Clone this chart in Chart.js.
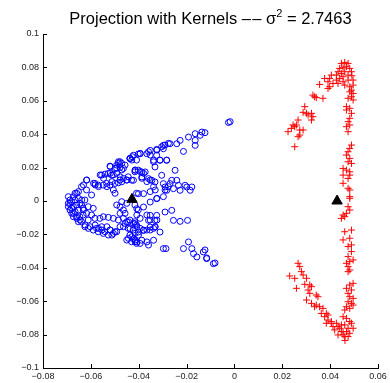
<!DOCTYPE html>
<html>
<head>
<meta charset="utf-8">
<script src="https://cdn.jsdelivr.net/npm/chart.js@4.4.1/dist/chart.umd.min.js"></script>
<style>
  html, body { margin: 0; padding: 0; background: #fff; }
  #wrap { width: 390px; height: 383px; }
</style>
</head>
<body>
<div id="wrap"><canvas id="proj"></canvas></div>
<script>
// projected points, class 1 (blue circles)
const class1Points = [
  [-0.0437,0.0255],[-0.0427,0.0265],[-0.0402,0.0281],[-0.0409,0.0245],
  [-0.0485,0.0235],[-0.0471,0.0225],[-0.0492,0.0215],[-0.0520,0.0209],[-0.0499,0.0195],[-0.0478,0.0201],[-0.0464,0.0195],[-0.0457,0.0215],
  [-0.0555,0.0155],[-0.0541,0.0161],[-0.0527,0.0165],[-0.0513,0.0155],[-0.0492,0.0165],[-0.0478,0.0145],[-0.0464,0.0135],[-0.0450,0.0125],
  [-0.0471,0.0115],[-0.0444,0.0145],[-0.0430,0.0125],[-0.0416,0.0175],[-0.0402,0.0185],
  [-0.0618,0.0125],[-0.0583,0.0105],[-0.0569,0.0095],[-0.0548,0.0095],[-0.0534,0.0105],[-0.0520,0.0095],[-0.0499,0.0105],[-0.0485,0.0109],
  [-0.0506,0.0066],[-0.0499,0.0046],
  [-0.0639,0.0086],[-0.0618,0.0066],[-0.0597,0.0036],[-0.0659,0.0046],[-0.0673,0.0026],[-0.0687,0.0006],[-0.0694,-0.0014],[-0.0680,-0.0004],
  [-0.0666,0.0006],[-0.0652,0.0016],[-0.0625,0.0006],[-0.0639,-0.0024],
  [-0.0694,-0.0034],[-0.0687,-0.0054],[-0.0673,-0.0034],[-0.0659,-0.0024],[-0.0646,-0.0014],[-0.0680,-0.0074],[-0.0666,-0.0064],[-0.0652,-0.0054],
  [-0.0632,-0.0044],[-0.0611,-0.0034],[-0.0590,-0.0044],[-0.0673,-0.0094],[-0.0659,-0.0104],[-0.0646,-0.0094],[-0.0632,-0.0084],[-0.0618,-0.0074],
  [-0.0597,-0.0084],[-0.0611,-0.0114],[-0.0639,-0.0124],[-0.0652,-0.0124],[-0.0625,-0.0154],[-0.0611,-0.0164],[-0.0590,-0.0174],[-0.0576,-0.0164],
  [-0.0555,-0.0154],[-0.0569,-0.0184],[-0.0541,-0.0184],[-0.0520,-0.0174],[-0.0506,-0.0194],[-0.0492,-0.0184],[-0.0527,-0.0204],[-0.0548,-0.0194],
  [-0.0583,-0.0104],[-0.0562,-0.0104],[-0.0548,-0.0094],[-0.0527,-0.0098],[-0.0506,-0.0104],[-0.0485,-0.0114],[-0.0464,-0.0104],[-0.0450,-0.0124],
  [-0.0437,-0.0114],[-0.0416,-0.0124],[-0.0409,-0.0144],[-0.0423,-0.0174],[-0.0444,-0.0164],[-0.0464,-0.0154],[-0.0437,-0.0204],[-0.0450,-0.0234],
  [-0.0416,-0.0234],[-0.0409,-0.0254],[-0.0430,-0.0244],
  [-0.0492,-0.0024],[-0.0478,-0.0034],[-0.0464,-0.0054],[-0.0471,-0.0004],[-0.0450,-0.0014],[-0.0478,-0.0074],[-0.0457,-0.0074],[-0.0416,-0.0024],
  [-0.0402,-0.0054],[-0.0409,0.0046],
  [-0.0192,0.0383],[-0.0164,0.0403],[-0.0136,0.0413],[-0.0143,0.0393],[-0.0164,0.0363],[-0.0164,0.0333],[-0.0227,0.0363],[-0.0241,0.0343],
  [-0.0213,0.0297],[-0.0269,0.0343],[-0.0297,0.0333],[-0.0297,0.0313],[-0.0325,0.0309],[-0.0352,0.0303],[-0.0366,0.0283],[-0.0394,0.0283],
  [-0.0422,0.0274],[-0.0436,0.0254],[-0.0325,0.0274],[-0.0338,0.0244],[-0.0311,0.0244],[-0.0283,0.0244],[-0.0332,0.0204],[-0.0415,0.0184],
  [-0.0387,0.0174],[-0.0373,0.0174],[-0.0359,0.0134],[-0.0345,0.0124],[-0.0332,0.0114],[-0.0387,0.0144],[-0.0422,0.0124],[-0.0304,0.0154],
  [-0.0297,0.0104],[-0.0290,0.0084],[-0.0269,0.0104],[-0.0262,0.0124],[-0.0241,0.0124],[-0.0234,0.0094],[-0.0283,0.0064],[-0.0255,0.0074],
  [-0.0227,0.0064],[-0.0206,0.0094],[-0.0199,0.0084],[-0.0178,0.0084],[-0.0185,0.0064],[-0.0248,0.0184],
  [-0.0401,0.0044],[-0.0380,0.0044],[-0.0352,-0.0006],[-0.0325,0.0014],[-0.0290,-0.0066],[-0.0262,-0.0056],[-0.0255,-0.0116],[-0.0227,-0.0122],
  [-0.0196,-0.0116],[-0.0408,-0.0046],[-0.0380,-0.0036],[-0.0352,-0.0086],[-0.0325,-0.0086],[-0.0332,-0.0116],[-0.0359,-0.0116],[-0.0352,-0.0156],
  [-0.0332,-0.0156],[-0.0311,-0.0186],[-0.0338,-0.0235],[-0.0366,-0.0245],[-0.0387,-0.0235],[-0.0408,-0.0245],[-0.0422,-0.0226],[-0.0401,-0.0186],
  [-0.0380,-0.0176],[-0.0436,-0.0166],[-0.0415,-0.0136],
  [-0.0297,-0.0285],[-0.0286,-0.0285],[-0.0213,-0.0285],[-0.0192,-0.0245],[-0.0178,-0.0285],[-0.0171,-0.0315],[-0.0157,-0.0335],[-0.0130,-0.0305],
  [-0.0116,-0.0345],[-0.0088,-0.0375],[-0.0123,-0.0293],[-0.0116,-0.0341],[-0.0081,-0.0371],[-0.0123,0.0409],
  [-0.0025,0.0470],[-0.0018,0.0475],
  [-0.0394,0.0285],[-0.0359,0.0295],[-0.0352,0.0275],[-0.0324,0.0305],[-0.0304,0.0325],[-0.0290,0.0335],[-0.0276,0.0345],[-0.0311,0.0245],
  [-0.0338,0.0235],[-0.0283,0.0245],[-0.0436,0.0255],[-0.0429,0.0245],[-0.0485,0.0225],[-0.0478,0.0235],[-0.0519,0.0206],[-0.0492,0.0196],
  [-0.0471,0.0186],[-0.0561,0.0156],[-0.0547,0.0136],[-0.0519,0.0166],[-0.0506,0.0156],[-0.0533,0.0086],[-0.0512,0.0116],[-0.0478,0.0126],
  [-0.0450,0.0126],[-0.0415,0.0186],[-0.0394,0.0176],[-0.0380,0.0166],[-0.0387,0.0136],[-0.0366,0.0116],[-0.0352,0.0126],[-0.0338,0.0086],
  [-0.0331,0.0066],[-0.0352,0.0056],[-0.0324,0.0016],[-0.0297,0.0026],[-0.0290,0.0066],[-0.0276,0.0086],[-0.0617,0.0126],[-0.0631,0.0096],
  [-0.0582,0.0096],[-0.0568,0.0086],[-0.0589,0.0106],
  [-0.0624,-0.0144],[-0.0603,-0.0154],[-0.0582,-0.0144],[-0.0568,-0.0164],[-0.0554,-0.0174],[-0.0533,-0.0154],[-0.0519,-0.0174],[-0.0512,-0.0204],
  [-0.0499,-0.0184],[-0.0478,-0.0154],[-0.0457,-0.0134],[-0.0443,-0.0124],[-0.0422,-0.0134],[-0.0408,-0.0154],[-0.0394,-0.0164],[-0.0380,-0.0174],
  [-0.0415,-0.0194],[-0.0401,-0.0204],[-0.0443,-0.0224],[-0.0429,-0.0214],[-0.0415,-0.0244],[-0.0394,-0.0254],[-0.0359,-0.0264],[-0.0366,-0.0174],
  [-0.0352,-0.0174],[-0.0338,-0.0164],[-0.0331,-0.0154],[-0.0324,-0.0114],[-0.0352,-0.0114],[-0.0366,-0.0084],[-0.0394,-0.0104],[-0.0408,-0.0084],
  [-0.0694,0.0026],[-0.0687,-0.0014],[-0.0680,-0.0044],[-0.0673,-0.0074],[-0.0659,-0.0094],[-0.0645,-0.0114],[-0.0666,0.0046],[-0.0652,0.0056],
  [-0.0638,0.0006],[-0.0631,-0.0054]
];

// projected points, class 2 (red crosses)
const class2Points = [
  [0.0447,0.0824],[0.0461,0.0830],[0.0475,0.0824],[0.0468,0.0804],[0.0454,0.0798],[0.0440,0.0794],[0.0433,0.0774],[0.0426,0.0754],
  [0.0447,0.0764],[0.0461,0.0774],[0.0482,0.0794],[0.0489,0.0774],[0.0491,0.0750],[0.0475,0.0754],[0.0454,0.0744],[0.0440,0.0734],
  [0.0426,0.0724],[0.0405,0.0754],[0.0398,0.0734],[0.0391,0.0714],[0.0412,0.0704],[0.0433,0.0704],[0.0454,0.0714],[0.0475,0.0724],
  [0.0496,0.0724],[0.0496,0.0694],[0.0482,0.0684],[0.0461,0.0694],[0.0489,0.0664],[0.0496,0.0644],[0.0482,0.0654],[0.0475,0.0615],
  [0.0489,0.0624],[0.0496,0.0605],[0.0398,0.0684],[0.0391,0.0674],[0.0377,0.0734],[0.0356,0.0698],[0.0328,0.0634],[0.0342,0.0619],
  [0.0370,0.0615],[0.0335,0.0624],[0.0468,0.0565],[0.0482,0.0555],[0.0489,0.0525],[0.0468,0.0545],[0.0482,0.0495],[0.0475,0.0475],
  [0.0482,0.0455],[0.0468,0.0445],[0.0475,0.0415],
  [0.0294,0.0565],[0.0287,0.0531],[0.0301,0.0525],[0.0322,0.0525],[0.0328,0.0505],[0.0322,0.0485],[0.0308,0.0515],[0.0266,0.0485],
  [0.0259,0.0455],[0.0245,0.0455],[0.0238,0.0435],[0.0224,0.0415],[0.0252,0.0445],[0.0273,0.0425],[0.0287,0.0425],[0.0273,0.0395],
  [0.0266,0.0385],[0.0252,0.0325],
  [0.0489,0.0335],[0.0482,0.0315],[0.0475,0.0295],[0.0468,0.0275],[0.0482,0.0255],[0.0475,0.0235],[0.0489,0.0225],[0.0454,0.0195],
  [0.0468,0.0185],[0.0482,0.0175],[0.0454,0.0155],[0.0482,0.0155],[0.0475,0.0135],[0.0454,0.0106],[0.0475,0.0076],[0.0482,0.0066],
  [0.0482,0.0026],[0.0475,-0.0034],
  [0.0482,0.0016],[0.0482,-0.0054],[0.0454,-0.0084],[0.0461,-0.0094],[0.0447,-0.0104],[0.0468,-0.0074],
  [0.0461,-0.0184],[0.0489,-0.0174],[0.0454,-0.0233],[0.0482,-0.0223],[0.0489,-0.0263],[0.0475,-0.0273],[0.0489,-0.0303],[0.0475,-0.0333],
  [0.0496,-0.0353],[0.0482,-0.0363],[0.0468,-0.0373],[0.0475,-0.0393],[0.0482,-0.0413],[0.0475,-0.0423],
  [0.0496,-0.0493],[0.0482,-0.0503],[0.0489,-0.0533],[0.0468,-0.0523],[0.0475,-0.0553],[0.0482,-0.0573],[0.0496,-0.0583],[0.0475,-0.0603],
  [0.0489,-0.0613],[0.0468,-0.0633],[0.0482,-0.0643],[0.0496,-0.0623],[0.0461,-0.0653],[0.0454,-0.0693],[0.0468,-0.0703],[0.0482,-0.0722],
  [0.0489,-0.0732],[0.0461,-0.0742],[0.0475,-0.0762],[0.0496,-0.0762],[0.0468,-0.0782],[0.0454,-0.0802],[0.0482,-0.0792],[0.0475,-0.0812],
  [0.0461,-0.0812],[0.0462,-0.0835],
  [0.0266,-0.0373],[0.0273,-0.0393],[0.0280,-0.0423],[0.0287,-0.0443],[0.0301,-0.0463],[0.0231,-0.0449],[0.0252,-0.0463],[0.0294,-0.0499],
  [0.0315,-0.0503],[0.0322,-0.0513],[0.0308,-0.0533],[0.0315,-0.0553],[0.0259,-0.0523],[0.0342,-0.0563],[0.0349,-0.0573],[0.0335,-0.0633],
  [0.0301,-0.0593],[0.0322,-0.0613],[0.0342,-0.0623],[0.0356,-0.0633],[0.0370,-0.0643],[0.0363,-0.0673],[0.0384,-0.0673],[0.0391,-0.0683],
  [0.0377,-0.0693],[0.0391,-0.0713],[0.0405,-0.0722],[0.0384,-0.0732],[0.0412,-0.0752],[0.0433,-0.0752],[0.0419,-0.0772],[0.0440,-0.0762],
  [0.0447,-0.0782],[0.0433,-0.0802],[0.0454,-0.0782],[0.0405,-0.0732],[0.0426,-0.0732],[0.0447,-0.0742]
];

// class means (black triangles)
const meanPoints = [[-0.0428, 0.0010], [0.0429, 0.0000]];

const xTicks = [-0.08, -0.06, -0.04, -0.02, 0, 0.02, 0.04, 0.06];
const yTicks = [-0.1, -0.08, -0.06, -0.04, -0.02, 0, 0.02, 0.04, 0.06, 0.08, 0.1];

const toXY = arr => arr.map(p => ({ x: p[0], y: p[1] }));

function fmtTick(v) {
  const s = Number(v.toFixed(3)).toString();
  return s.replace('-', '\u2212');
}

// title with a raised exponent, centered over the plot area
const titlePlugin = {
  id: 'matTitle',
  afterDraw(chart) {
    const ctx = chart.ctx;
    const area = chart.chartArea;
    const font = '16.5px "Liberation Sans", Arial, sans-serif';
    const small = '11px "Liberation Sans", Arial, sans-serif';
    const a = 'Projection with Kernels \u2013\u200a\u2013 \u03c3';
    const sup = '2';
    const b = ' = 2.7463';
    ctx.save();
    ctx.fillStyle = '#000';
    ctx.textBaseline = 'alphabetic';
    ctx.font = font;
    const wa = ctx.measureText(a).width;
    const wb = ctx.measureText(b).width;
    ctx.font = small;
    const ws = ctx.measureText(sup).width;
    let x = (area.left + area.right) / 2 - (wa + ws + wb) / 2;
    const y = 24;
    ctx.font = font;
    ctx.fillText(a, x, y);
    x += wa;
    ctx.font = small;
    ctx.fillText(sup, x, y - 7);
    x += ws;
    ctx.font = font;
    ctx.fillText(b, x, y);
    ctx.restore();
  }
};

// MATLAB style inward tick marks
const tickPlugin = {
  id: 'inTicks',
  afterDraw(chart) {
    const ctx = chart.ctx;
    const area = chart.chartArea;
    const xs = chart.scales.x, ys = chart.scales.y;
    ctx.save();
    ctx.strokeStyle = '#000';
    ctx.lineWidth = 1;
    ctx.beginPath();
    xTicks.forEach(v => {
      const px = Math.round(xs.getPixelForValue(v)) + 0.5;
      ctx.moveTo(px, area.bottom);
      ctx.lineTo(px, area.bottom - 4);
    });
    yTicks.forEach(v => {
      const py = Math.round(ys.getPixelForValue(v)) + 0.5;
      ctx.moveTo(area.left, py);
      ctx.lineTo(area.left + 4, py);
    });
    ctx.stroke();
    ctx.restore();
  }
};

new Chart(document.getElementById('proj'), {
  type: 'scatter',
  data: {
    datasets: [
      {
        label: 'means',
        data: toXY(meanPoints),
        pointStyle: 'triangle',
        pointRadius: 6,
        backgroundColor: '#000',
        borderColor: '#000',
        borderWidth: 1,
        order: 0
      },
      {
        label: 'class 2',
        data: toXY(class2Points),
        pointStyle: 'cross',
        pointRadius: 3.5,
        borderColor: '#ff0000',
        borderWidth: 1,
        order: 1
      },
      {
        label: 'class 1',
        data: toXY(class1Points),
        pointStyle: 'circle',
        pointRadius: 3,
        backgroundColor: 'rgba(0,0,0,0)',
        borderColor: '#0000ff',
        borderWidth: 1,
        order: 2
      }
    ]
  },
  options: {
    responsive: true,
    maintainAspectRatio: false,
    animation: false,
    layout: { padding: { top: 34, right: 12, left: 0, bottom: 0 } },
    plugins: {
      legend: { display: false },
      tooltip: { enabled: false },
      title: { display: false }
    },
    scales: {
      x: {
        type: 'linear',
        min: -0.08,
        max: 0.06,
        afterBuildTicks: s => { s.ticks = xTicks.map(v => ({ value: v })); },
        afterFit: s => { s.height = 15; },
        grid: { display: false, drawTicks: false },
        border: { display: true, color: '#000', width: 1 },
        ticks: {
          padding: 3,
          color: '#222',
          maxRotation: 0,
          autoSkip: false,
          font: { family: '"Liberation Sans", Arial, sans-serif', size: 9 },
          callback: v => fmtTick(v)
        }
      },
      y: {
        type: 'linear',
        min: -0.1,
        max: 0.1,
        afterBuildTicks: s => { s.ticks = yTicks.map(v => ({ value: v })); },
        afterFit: s => { s.width = 43; },
        grid: { display: false, drawTicks: false },
        border: { display: true, color: '#000', width: 1 },
        ticks: {
          padding: 4,
          color: '#222',
          autoSkip: false,
          font: { family: '"Liberation Sans", Arial, sans-serif', size: 9 },
          callback: v => fmtTick(v)
        }
      }
    }
  },
  plugins: [titlePlugin, tickPlugin]
});
</script>
</body>
</html>
